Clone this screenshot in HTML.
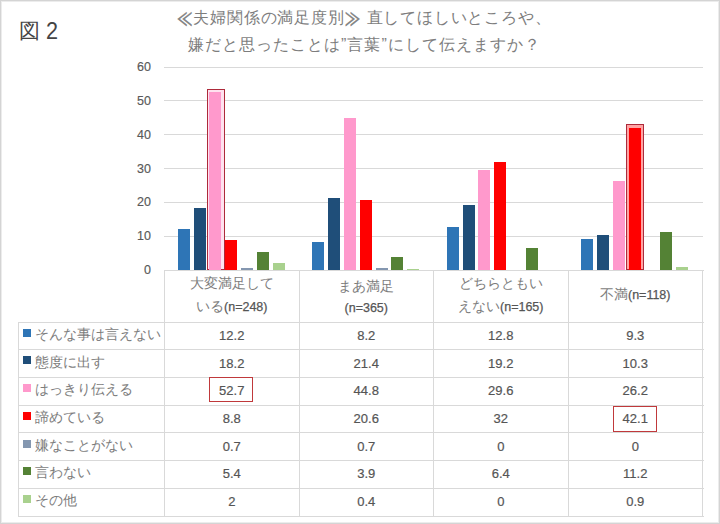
<!DOCTYPE html>
<html lang="ja"><head><meta charset="utf-8"><style>
html,body{margin:0;padding:0;}
body{width:720px;height:524px;position:relative;overflow:hidden;background:#fff;font-family:"Liberation Sans",sans-serif;color:#595959;}
.a{position:absolute;}
.frame{left:0;top:0;width:718px;height:522px;border:1px solid #d4d4d4;box-shadow:inset 0 0 0 1px #ececec;}
.g{position:absolute;height:1px;background:#d9d9d9;}
.v{position:absolute;width:1px;background:#d9d9d9;}
.yl{position:absolute;width:30px;text-align:right;font-size:12.5px;line-height:14px;color:#595959;-webkit-text-stroke:0.15px #595959;}
.bar{position:absolute;}
.title{position:absolute;left:0;width:720px;text-align:center;font-size:16px;line-height:20px;color:#7d7d7d;white-space:nowrap;letter-spacing:0.8px;}
.cat{position:absolute;text-align:center;font-size:14px;line-height:21px;color:#7d7d7d;white-space:nowrap;}
.rl{position:absolute;left:35px;font-size:14px;line-height:20px;color:#7d7d7d;white-space:nowrap;}
.sw{position:absolute;left:23px;width:8px;height:8px;}
.gl{display:inline-block;transform:scale(0.95,1.5);-webkit-text-stroke:0.35px #7d7d7d;}
.n{font-size:12.5px;color:#555;-webkit-text-stroke:0.25px #555;}
.val{position:absolute;text-align:center;font-size:13px;line-height:16px;color:#555;-webkit-text-stroke:0.2px #555;}
.box{position:absolute;border:1.5px solid #c0393b;box-sizing:border-box;}
.ol{position:absolute;border:1.2px solid #ad2a3a;box-sizing:border-box;}
</style></head><body>

<div class="a frame"></div>
<div class="a" style="left:18.5px;top:15.5px;font-size:21px;line-height:30px;color:#444;">図</div>
<div class="a" style="left:46.3px;top:15.8px;font-size:24px;line-height:30px;color:#444;transform:scaleX(0.9);transform-origin:0 0;">2</div>
<div class="title" style="top:7.5px;padding-left:8px;box-sizing:border-box;"><span class=gl>≪</span>夫婦関係の満足度別<span class=gl>≫</span> 直してほしいところや、</div>
<div class="title" style="top:34.5px;padding-left:9px;box-sizing:border-box;letter-spacing:1.05px;">嫌だと思ったことは”言葉”にして伝えますか？</div>
<div class="g" style="left:164px;width:538.5px;top:66.50px;"></div>
<div class="g" style="left:164px;width:538.5px;top:100.33px;"></div>
<div class="g" style="left:164px;width:538.5px;top:134.17px;"></div>
<div class="g" style="left:164px;width:538.5px;top:168.00px;"></div>
<div class="g" style="left:164px;width:538.5px;top:201.83px;"></div>
<div class="g" style="left:164px;width:538.5px;top:235.67px;"></div>
<div class="yl" style="left:121px;top:60.00px;">60</div>
<div class="yl" style="left:121px;top:93.83px;">50</div>
<div class="yl" style="left:121px;top:127.67px;">40</div>
<div class="yl" style="left:121px;top:161.50px;">30</div>
<div class="yl" style="left:121px;top:195.33px;">20</div>
<div class="yl" style="left:121px;top:229.17px;">10</div>
<div class="yl" style="left:121px;top:263.00px;">0</div>
<div class="ol" style="left:206.60px;top:89.10px;width:18.20px;height:180.90px;background:#ffe2ef;"></div>
<div class="ol" style="left:625.90px;top:123.86px;width:18.20px;height:146.14px;background:#ffa3a3;"></div>
<div class="bar" style="left:177.80px;top:228.72px;width:12.0px;height:41.28px;background:#2e75b6;"></div>
<div class="bar" style="left:193.60px;top:208.42px;width:12.0px;height:61.58px;background:#1f4e79;"></div>
<div class="bar" style="left:209.40px;top:91.70px;width:12.0px;height:178.30px;background:#ff99cc;"></div>
<div class="bar" style="left:225.20px;top:240.23px;width:12.0px;height:29.77px;background:#ff0000;"></div>
<div class="bar" style="left:241.00px;top:267.63px;width:12.0px;height:2.37px;background:#8497b0;"></div>
<div class="bar" style="left:256.80px;top:251.73px;width:12.0px;height:18.27px;background:#548235;"></div>
<div class="bar" style="left:272.60px;top:263.23px;width:12.0px;height:6.77px;background:#a9d18e;"></div>
<div class="bar" style="left:312.30px;top:242.26px;width:12.0px;height:27.74px;background:#2e75b6;"></div>
<div class="bar" style="left:328.10px;top:197.60px;width:12.0px;height:72.40px;background:#1f4e79;"></div>
<div class="bar" style="left:343.90px;top:118.43px;width:12.0px;height:151.57px;background:#ff99cc;"></div>
<div class="bar" style="left:359.70px;top:200.30px;width:12.0px;height:69.70px;background:#ff0000;"></div>
<div class="bar" style="left:375.50px;top:267.63px;width:12.0px;height:2.37px;background:#8497b0;"></div>
<div class="bar" style="left:391.30px;top:256.81px;width:12.0px;height:13.20px;background:#548235;"></div>
<div class="bar" style="left:407.10px;top:268.65px;width:12.0px;height:1.35px;background:#a9d18e;"></div>
<div class="bar" style="left:446.80px;top:226.69px;width:12.0px;height:43.31px;background:#2e75b6;"></div>
<div class="bar" style="left:462.60px;top:205.04px;width:12.0px;height:64.96px;background:#1f4e79;"></div>
<div class="bar" style="left:478.40px;top:169.85px;width:12.0px;height:100.15px;background:#ff99cc;"></div>
<div class="bar" style="left:494.20px;top:161.73px;width:12.0px;height:108.27px;background:#ff0000;"></div>
<div class="bar" style="left:525.80px;top:248.35px;width:12.0px;height:21.65px;background:#548235;"></div>
<div class="bar" style="left:581.30px;top:238.53px;width:12.0px;height:31.47px;background:#2e75b6;"></div>
<div class="bar" style="left:597.10px;top:235.15px;width:12.0px;height:34.85px;background:#1f4e79;"></div>
<div class="bar" style="left:612.90px;top:181.36px;width:12.0px;height:88.64px;background:#ff99cc;"></div>
<div class="bar" style="left:628.70px;top:127.56px;width:12.0px;height:142.44px;background:#ff0000;"></div>
<div class="bar" style="left:660.30px;top:232.11px;width:12.0px;height:37.89px;background:#548235;"></div>
<div class="bar" style="left:676.10px;top:266.95px;width:12.0px;height:3.04px;background:#a9d18e;"></div>
<div class="g" style="left:164.5px;width:539.0px;top:269.5px;"></div>
<div class="g" style="left:18px;width:685.5px;top:321.50px;"></div>
<div class="g" style="left:18px;width:685.5px;top:349.21px;"></div>
<div class="g" style="left:18px;width:685.5px;top:376.93px;"></div>
<div class="g" style="left:18px;width:685.5px;top:404.64px;"></div>
<div class="g" style="left:18px;width:685.5px;top:432.36px;"></div>
<div class="g" style="left:18px;width:685.5px;top:460.07px;"></div>
<div class="g" style="left:18px;width:685.5px;top:487.79px;"></div>
<div class="g" style="left:18px;width:685.5px;top:515.50px;"></div>
<div class="v" style="left:18px;top:321.5px;height:195.0px;"></div>
<div class="v" style="left:164.0px;top:269.5px;height:247.0px;"></div>
<div class="v" style="left:298.5px;top:269.5px;height:247.0px;"></div>
<div class="v" style="left:433.0px;top:269.5px;height:247.0px;"></div>
<div class="v" style="left:567.5px;top:269.5px;height:247.0px;"></div>
<div class="v" style="left:702.0px;top:269.5px;height:247.0px;"></div>
<div class="cat" style="left:164.5px;width:134.5px;top:271.5px;line-height:23px;">大変満足して<br>いる<span class=n>(n=248)</span></div>
<div class="cat" style="left:299.0px;width:134.5px;top:275.5px;line-height:21px;">まあ満足<br><span class=n>(n=365)</span></div>
<div class="cat" style="left:433.5px;width:134.5px;top:271.5px;line-height:23px;">どちらともい<br>えない<span class=n>(n=165)</span></div>
<div class="cat" style="left:568.0px;width:134.5px;top:284px;">不満<span class=n>(n=118)</span></div>
<div class="sw" style="top:328.66px;background:#2e75b6;"></div>
<div class="rl" style="top:323.86px;">そんな事は言えない</div>
<div class="val" style="left:164.5px;width:134.5px;top:327.86px;">12.2</div>
<div class="val" style="left:299.0px;width:134.5px;top:327.86px;">8.2</div>
<div class="val" style="left:433.5px;width:134.5px;top:327.86px;">12.8</div>
<div class="val" style="left:568.0px;width:134.5px;top:327.86px;">9.3</div>
<div class="sw" style="top:356.37px;background:#1f4e79;"></div>
<div class="rl" style="top:351.57px;">態度に出す</div>
<div class="val" style="left:164.5px;width:134.5px;top:355.57px;">18.2</div>
<div class="val" style="left:299.0px;width:134.5px;top:355.57px;">21.4</div>
<div class="val" style="left:433.5px;width:134.5px;top:355.57px;">19.2</div>
<div class="val" style="left:568.0px;width:134.5px;top:355.57px;">10.3</div>
<div class="sw" style="top:384.09px;background:#ff99cc;"></div>
<div class="rl" style="top:379.29px;">はっきり伝える</div>
<div class="val" style="left:164.5px;width:134.5px;top:383.29px;">52.7</div>
<div class="val" style="left:299.0px;width:134.5px;top:383.29px;">44.8</div>
<div class="val" style="left:433.5px;width:134.5px;top:383.29px;">29.6</div>
<div class="val" style="left:568.0px;width:134.5px;top:383.29px;">26.2</div>
<div class="sw" style="top:411.80px;background:#ff0000;"></div>
<div class="rl" style="top:407.00px;">諦めている</div>
<div class="val" style="left:164.5px;width:134.5px;top:411.00px;">8.8</div>
<div class="val" style="left:299.0px;width:134.5px;top:411.00px;">20.6</div>
<div class="val" style="left:433.5px;width:134.5px;top:411.00px;">32</div>
<div class="val" style="left:568.0px;width:134.5px;top:411.00px;">42.1</div>
<div class="sw" style="top:439.51px;background:#8497b0;"></div>
<div class="rl" style="top:434.71px;">嫌なことがない</div>
<div class="val" style="left:164.5px;width:134.5px;top:438.71px;">0.7</div>
<div class="val" style="left:299.0px;width:134.5px;top:438.71px;">0.7</div>
<div class="val" style="left:433.5px;width:134.5px;top:438.71px;">0</div>
<div class="val" style="left:568.0px;width:134.5px;top:438.71px;">0</div>
<div class="sw" style="top:467.23px;background:#548235;"></div>
<div class="rl" style="top:462.43px;">言わない</div>
<div class="val" style="left:164.5px;width:134.5px;top:466.43px;">5.4</div>
<div class="val" style="left:299.0px;width:134.5px;top:466.43px;">3.9</div>
<div class="val" style="left:433.5px;width:134.5px;top:466.43px;">6.4</div>
<div class="val" style="left:568.0px;width:134.5px;top:466.43px;">11.2</div>
<div class="sw" style="top:494.94px;background:#a9d18e;"></div>
<div class="rl" style="top:490.14px;">その他</div>
<div class="val" style="left:164.5px;width:134.5px;top:494.14px;">2</div>
<div class="val" style="left:299.0px;width:134.5px;top:494.14px;">0.4</div>
<div class="val" style="left:433.5px;width:134.5px;top:494.14px;">0</div>
<div class="val" style="left:568.0px;width:134.5px;top:494.14px;">0.9</div>
<div class="box" style="left:209px;top:377px;width:44px;height:25px;"></div>
<div class="box" style="left:613.2px;top:406px;width:44px;height:25.5px;"></div>
</body></html>
